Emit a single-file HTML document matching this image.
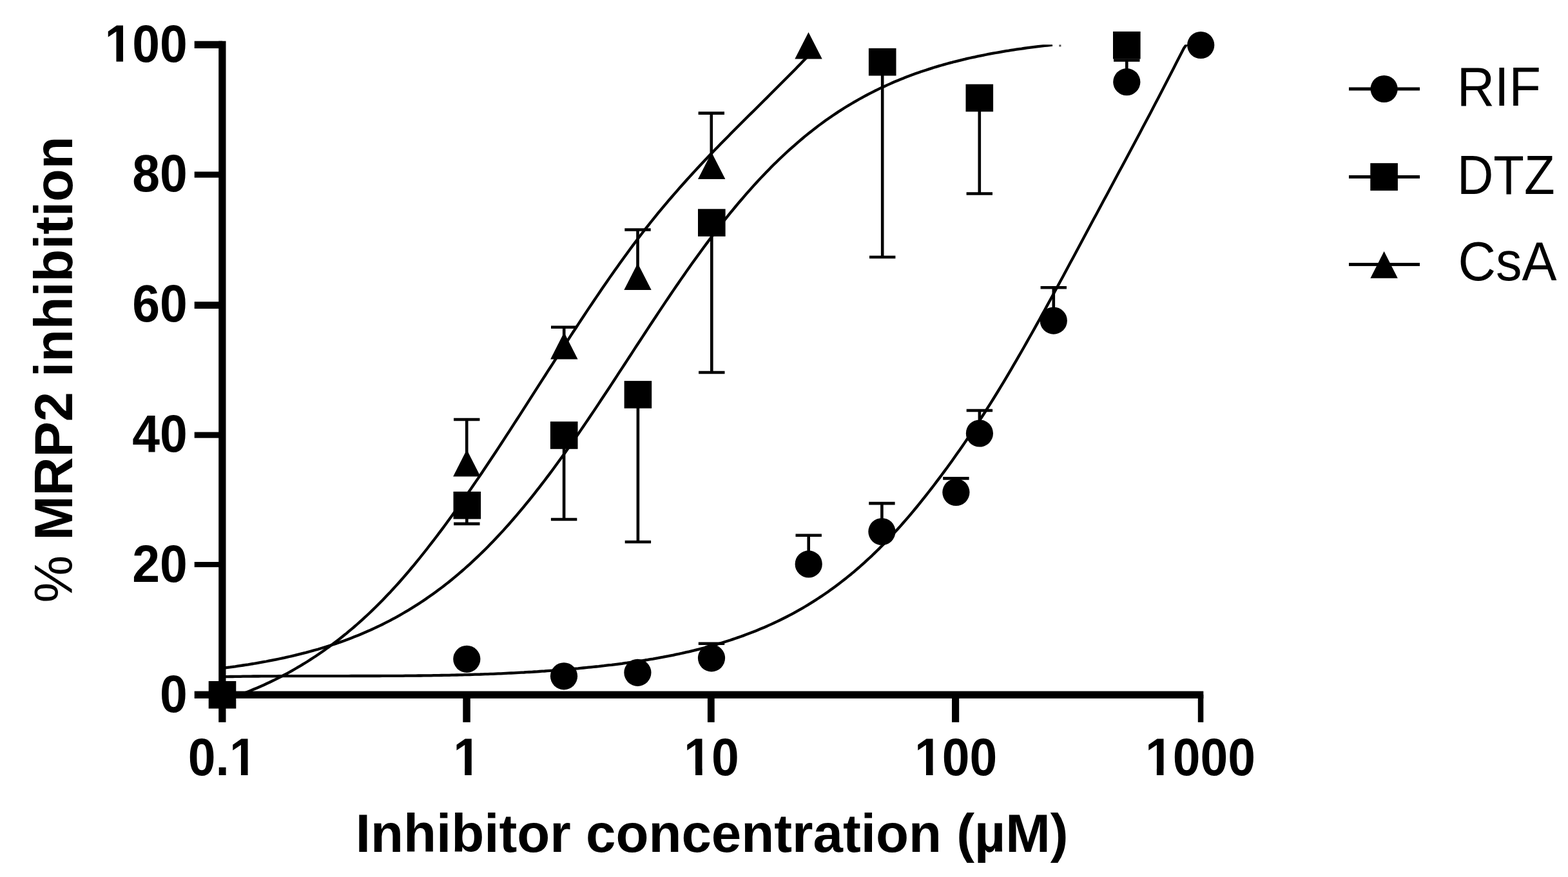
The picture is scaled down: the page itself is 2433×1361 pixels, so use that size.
<!DOCTYPE html>
<html lang="en"><head><meta charset="utf-8"><title>MRP2 inhibition</title>
<style>html,body{margin:0;padding:0;background:#fff;}body{width:2433px;height:1361px;overflow:hidden;}svg{display:block;}</style>
</head><body>
<svg width="2433" height="1361" viewBox="0 0 2433 1361" role="img" aria-label="MRP2 inhibition versus inhibitor concentration">
<rect width="2433" height="1361" fill="#fff"/>
<defs><clipPath id="plot"><rect x="345" y="69.2" width="1530" height="1009.1"/></clipPath></defs>
<g fill="none" stroke="#000" stroke-width="4.3" stroke-linejoin="round" clip-path="url(#plot)">
<path d="M345.0,1050.1 L349.0,1050.1 L353.0,1050.1 L357.0,1050.0 L361.0,1050.0 L365.0,1049.9 L369.0,1049.8 L373.0,1049.8 L377.0,1049.7 L381.0,1049.7 L385.0,1049.6 L389.0,1049.6 L393.0,1049.5 L397.0,1049.5 L401.0,1049.5 L405.0,1049.4 L409.0,1049.4 L413.0,1049.4 L417.0,1049.3 L421.0,1049.3 L425.0,1049.3 L429.0,1049.3 L433.0,1049.2 L437.0,1049.2 L441.0,1049.2 L445.0,1049.2 L449.0,1049.2 L453.0,1049.2 L457.0,1049.1 L461.0,1049.1 L465.0,1049.1 L469.0,1049.1 L473.0,1049.1 L477.0,1049.1 L481.0,1049.1 L485.0,1049.1 L489.0,1049.1 L493.0,1049.1 L497.0,1049.1 L501.0,1049.1 L505.0,1049.1 L509.0,1049.1 L513.0,1049.1 L517.0,1049.1 L521.0,1049.1 L525.0,1049.1 L529.0,1049.1 L533.0,1049.1 L537.0,1049.1 L541.0,1049.1 L545.0,1049.0 L549.0,1049.0 L553.0,1049.0 L557.0,1049.0 L561.0,1049.0 L565.0,1049.0 L569.0,1049.0 L573.0,1049.0 L577.0,1049.0 L581.0,1049.0 L585.0,1049.0 L589.0,1049.0 L593.0,1048.9 L597.0,1048.9 L601.0,1048.9 L605.0,1048.9 L609.0,1048.9 L613.0,1048.8 L617.0,1048.8 L621.0,1048.8 L625.0,1048.8 L629.0,1048.7 L633.0,1048.7 L637.0,1048.7 L641.0,1048.6 L645.0,1048.6 L649.0,1048.5 L653.0,1048.5 L657.0,1048.4 L661.0,1048.4 L665.0,1048.3 L669.0,1048.3 L673.0,1048.2 L677.0,1048.1 L681.0,1048.1 L685.0,1048.0 L689.0,1047.9 L693.0,1047.9 L697.0,1047.8 L701.0,1047.7 L705.0,1047.6 L709.0,1047.5 L713.0,1047.4 L717.0,1047.3 L721.0,1047.2 L725.0,1047.1 L729.0,1047.0 L733.0,1046.9 L737.0,1046.7 L741.0,1046.6 L745.0,1046.5 L749.0,1046.3 L753.0,1046.2 L757.0,1046.1 L761.0,1045.9 L765.0,1045.8 L769.0,1045.6 L773.0,1045.4 L777.0,1045.3 L781.0,1045.1 L785.0,1044.9 L789.0,1044.7 L793.0,1044.5 L797.0,1044.3 L801.0,1044.1 L805.0,1043.9 L809.0,1043.7 L813.0,1043.5 L817.0,1043.2 L821.0,1043.0 L825.0,1042.8 L829.0,1042.5 L833.0,1042.3 L837.0,1042.0 L841.0,1041.7 L845.0,1041.5 L849.0,1041.2 L853.0,1040.9 L857.0,1040.6 L861.0,1040.3 L865.0,1040.0 L869.0,1039.7 L873.0,1039.4 L877.0,1039.0 L881.0,1038.7 L885.0,1038.4 L889.0,1038.0 L893.0,1037.6 L897.0,1037.3 L901.0,1036.9 L905.0,1036.5 L909.0,1036.1 L913.0,1035.7 L917.0,1035.3 L921.0,1034.9 L925.0,1034.5 L929.0,1034.1 L933.0,1033.6 L937.0,1033.2 L941.0,1032.7 L945.0,1032.2 L949.0,1031.8 L953.0,1031.3 L957.0,1030.8 L961.0,1030.3 L965.0,1029.8 L969.0,1029.2 L973.0,1028.7 L977.0,1028.1 L981.0,1027.6 L985.0,1027.0 L989.0,1026.4 L993.0,1025.8 L997.0,1025.2 L1001.0,1024.5 L1005.0,1023.9 L1009.0,1023.2 L1013.0,1022.6 L1017.0,1021.9 L1021.0,1021.2 L1025.0,1020.4 L1029.0,1019.7 L1033.0,1018.9 L1037.0,1018.2 L1041.0,1017.4 L1045.0,1016.6 L1049.0,1015.7 L1053.0,1014.9 L1057.0,1014.0 L1061.0,1013.1 L1065.0,1012.2 L1069.0,1011.3 L1073.0,1010.3 L1077.0,1009.4 L1081.0,1008.4 L1085.0,1007.4 L1089.0,1006.3 L1093.0,1005.3 L1097.0,1004.2 L1101.0,1003.1 L1105.0,1002.0 L1109.0,1000.8 L1113.0,999.7 L1117.0,998.5 L1121.0,997.3 L1125.0,996.0 L1129.0,994.7 L1133.0,993.5 L1137.0,992.1 L1141.0,990.8 L1145.0,989.4 L1149.0,988.0 L1153.0,986.6 L1157.0,985.1 L1161.0,983.6 L1165.0,982.1 L1169.0,980.5 L1173.0,978.9 L1177.0,977.3 L1181.0,975.6 L1185.0,973.9 L1189.0,972.2 L1193.0,970.4 L1197.0,968.6 L1201.0,966.8 L1205.0,964.9 L1209.0,963.0 L1213.0,961.0 L1217.0,959.0 L1221.0,957.0 L1225.0,954.9 L1229.0,952.8 L1233.0,950.6 L1237.0,948.4 L1241.0,946.1 L1245.0,943.8 L1249.0,941.5 L1253.0,939.1 L1257.0,936.6 L1261.0,934.1 L1265.0,931.6 L1269.0,929.0 L1273.0,926.4 L1277.0,923.7 L1281.0,921.0 L1285.0,918.2 L1289.0,915.3 L1293.0,912.4 L1297.0,909.5 L1301.0,906.5 L1305.0,903.4 L1309.0,900.3 L1313.0,897.2 L1317.0,893.9 L1321.0,890.7 L1325.0,887.3 L1329.0,883.9 L1333.0,880.5 L1337.0,876.9 L1341.0,873.4 L1345.0,869.7 L1349.0,866.0 L1353.0,862.3 L1357.0,858.4 L1361.0,854.5 L1365.0,850.6 L1369.0,846.5 L1373.0,842.4 L1377.0,838.3 L1381.0,834.1 L1385.0,829.8 L1389.0,825.4 L1393.0,821.0 L1397.0,816.6 L1401.0,812.0 L1405.0,807.4 L1409.0,802.8 L1413.0,798.1 L1417.0,793.3 L1421.0,788.5 L1425.0,783.6 L1429.0,778.7 L1433.0,773.7 L1437.0,768.6 L1441.0,763.5 L1445.0,758.4 L1449.0,753.2 L1453.0,747.9 L1457.0,742.6 L1461.0,737.3 L1465.0,731.9 L1469.0,726.4 L1473.0,720.9 L1477.0,715.4 L1481.0,709.8 L1485.0,704.1 L1489.0,698.4 L1493.0,692.7 L1497.0,686.9 L1501.0,681.0 L1505.0,675.1 L1509.0,669.1 L1513.0,663.1 L1517.0,657.1 L1521.0,650.9 L1525.0,644.8 L1529.0,638.5 L1533.0,632.2 L1537.0,625.9 L1541.0,619.5 L1545.0,613.0 L1549.0,606.5 L1553.0,599.9 L1557.0,593.3 L1561.0,586.6 L1565.0,579.8 L1569.0,573.1 L1573.0,566.2 L1577.0,559.3 L1581.0,552.4 L1585.0,545.5 L1589.0,538.5 L1593.0,531.4 L1597.0,524.3 L1601.0,517.2 L1605.0,510.1 L1609.0,502.9 L1613.0,495.7 L1617.0,488.4 L1621.0,481.2 L1625.0,473.9 L1629.0,466.5 L1633.0,459.2 L1637.0,451.8 L1641.0,444.5 L1645.0,437.1 L1649.0,429.7 L1653.0,422.2 L1657.0,414.8 L1661.0,407.3 L1665.0,399.9 L1669.0,392.4 L1673.0,385.0 L1677.0,377.5 L1681.0,370.0 L1685.0,362.5 L1689.0,355.1 L1693.0,347.6 L1697.0,340.1 L1701.0,332.7 L1705.0,325.2 L1709.0,317.8 L1713.0,310.3 L1717.0,302.9 L1721.0,295.4 L1725.0,288.0 L1729.0,280.5 L1733.0,273.1 L1737.0,265.6 L1741.0,258.2 L1745.0,250.7 L1749.0,243.2 L1753.0,235.8 L1757.0,228.3 L1761.0,220.8 L1765.0,213.2 L1769.0,205.7 L1773.0,198.1 L1777.0,190.6 L1781.0,183.0 L1785.0,175.4 L1789.0,167.8 L1793.0,160.1 L1797.0,152.4 L1801.0,144.7 L1805.0,137.0 L1809.0,129.3 L1813.0,121.5 L1817.0,113.7 L1821.0,105.9 L1825.0,98.1 L1829.0,90.3 L1833.0,82.5 L1837.0,74.7 L1841.0,69.2 L1862.0,69.2"/>
<path d="M345.0,1036.9 L349.0,1036.4 L353.0,1035.9 L357.0,1035.4 L361.0,1034.8 L365.0,1034.3 L369.0,1033.7 L373.0,1033.1 L377.0,1032.5 L381.0,1031.9 L385.0,1031.3 L389.0,1030.6 L393.0,1030.0 L397.0,1029.3 L401.0,1028.6 L405.0,1027.9 L409.0,1027.2 L413.0,1026.5 L417.0,1025.7 L421.0,1024.9 L425.0,1024.1 L429.0,1023.3 L433.0,1022.5 L437.0,1021.7 L441.0,1020.8 L445.0,1019.9 L449.0,1019.0 L453.0,1018.1 L457.0,1017.2 L461.0,1016.2 L465.0,1015.2 L469.0,1014.2 L473.0,1013.2 L477.0,1012.1 L481.0,1011.0 L485.0,1009.9 L489.0,1008.8 L493.0,1007.7 L497.0,1006.5 L501.0,1005.3 L505.0,1004.1 L509.0,1002.8 L513.0,1001.5 L517.0,1000.2 L521.0,998.9 L525.0,997.5 L529.0,996.1 L533.0,994.7 L537.0,993.2 L541.0,991.7 L545.0,990.2 L549.0,988.6 L553.0,987.0 L557.0,985.4 L561.0,983.7 L565.0,982.0 L569.0,980.3 L573.0,978.6 L577.0,976.7 L581.0,974.9 L585.0,973.0 L589.0,971.1 L593.0,969.2 L597.0,967.2 L601.0,965.1 L605.0,963.1 L609.0,960.9 L613.0,958.8 L617.0,956.6 L621.0,954.3 L625.0,952.0 L629.0,949.7 L633.0,947.3 L637.0,944.9 L641.0,942.4 L645.0,939.9 L649.0,937.4 L653.0,934.7 L657.0,932.1 L661.0,929.4 L665.0,926.6 L669.0,923.8 L673.0,920.9 L677.0,918.0 L681.0,915.1 L685.0,912.1 L689.0,909.0 L693.0,905.9 L697.0,902.7 L701.0,899.5 L705.0,896.2 L709.0,892.8 L713.0,889.4 L717.0,886.0 L721.0,882.5 L725.0,878.9 L729.0,875.3 L733.0,871.6 L737.0,867.9 L741.0,864.1 L745.0,860.3 L749.0,856.4 L753.0,852.4 L757.0,848.4 L761.0,844.3 L765.0,840.2 L769.0,836.0 L773.0,831.7 L777.0,827.4 L781.0,823.1 L785.0,818.6 L789.0,814.2 L793.0,809.6 L797.0,805.0 L801.0,800.4 L805.0,795.7 L809.0,790.9 L813.0,786.1 L817.0,781.2 L821.0,776.3 L825.0,771.3 L829.0,766.3 L833.0,761.2 L837.0,756.1 L841.0,750.9 L845.0,745.7 L849.0,740.4 L853.0,735.1 L857.0,729.7 L861.0,724.3 L865.0,718.8 L869.0,713.3 L873.0,707.8 L877.0,702.2 L881.0,696.6 L885.0,690.9 L889.0,685.2 L893.0,679.4 L897.0,673.7 L901.0,667.9 L905.0,662.0 L909.0,656.1 L913.0,650.2 L917.0,644.3 L921.0,638.4 L925.0,632.4 L929.0,626.4 L933.0,620.3 L937.0,614.3 L941.0,608.2 L945.0,602.2 L949.0,596.1 L953.0,590.0 L957.0,583.9 L961.0,577.7 L965.0,571.6 L969.0,565.5 L973.0,559.3 L977.0,553.2 L981.0,547.1 L985.0,540.9 L989.0,534.8 L993.0,528.7 L997.0,522.6 L1001.0,516.5 L1005.0,510.4 L1009.0,504.3 L1013.0,498.2 L1017.0,492.2 L1021.0,486.1 L1025.0,480.1 L1029.0,474.1 L1033.0,468.1 L1037.0,462.2 L1041.0,456.3 L1045.0,450.4 L1049.0,444.5 L1053.0,438.7 L1057.0,432.9 L1061.0,427.2 L1065.0,421.4 L1069.0,415.7 L1073.0,410.1 L1077.0,404.5 L1081.0,398.9 L1085.0,393.4 L1089.0,387.9 L1093.0,382.5 L1097.0,377.1 L1101.0,371.7 L1105.0,366.4 L1109.0,361.2 L1113.0,356.0 L1117.0,350.8 L1121.0,345.7 L1125.0,340.7 L1129.0,335.7 L1133.0,330.7 L1137.0,325.8 L1141.0,321.0 L1145.0,316.2 L1149.0,311.5 L1153.0,306.8 L1157.0,302.2 L1161.0,297.6 L1165.0,293.1 L1169.0,288.6 L1173.0,284.3 L1177.0,279.9 L1181.0,275.6 L1185.0,271.4 L1189.0,267.3 L1193.0,263.2 L1197.0,259.1 L1201.0,255.1 L1205.0,251.2 L1209.0,247.3 L1213.0,243.5 L1217.0,239.7 L1221.0,236.0 L1225.0,232.4 L1229.0,228.8 L1233.0,225.3 L1237.0,221.8 L1241.0,218.4 L1245.0,215.0 L1249.0,211.7 L1253.0,208.4 L1257.0,205.2 L1261.0,202.1 L1265.0,199.0 L1269.0,195.9 L1273.0,192.9 L1277.0,190.0 L1281.0,187.1 L1285.0,184.3 L1289.0,181.5 L1293.0,178.8 L1297.0,176.1 L1301.0,173.4 L1305.0,170.9 L1309.0,168.3 L1313.0,165.8 L1317.0,163.4 L1321.0,161.0 L1325.0,158.6 L1329.0,156.3 L1333.0,154.0 L1337.0,151.8 L1341.0,149.6 L1345.0,147.5 L1349.0,145.4 L1353.0,143.4 L1357.0,141.3 L1361.0,139.4 L1365.0,137.4 L1369.0,135.5 L1373.0,133.7 L1377.0,131.9 L1381.0,130.1 L1385.0,128.3 L1389.0,126.6 L1393.0,124.9 L1397.0,123.3 L1401.0,121.7 L1405.0,120.1 L1409.0,118.6 L1413.0,117.1 L1417.0,115.6 L1421.0,114.1 L1425.0,112.7 L1429.0,111.3 L1433.0,110.0 L1437.0,108.7 L1441.0,107.4 L1445.0,106.1 L1449.0,104.8 L1453.0,103.6 L1457.0,102.4 L1461.0,101.3 L1465.0,100.1 L1469.0,99.0 L1473.0,97.9 L1477.0,96.9 L1481.0,95.8 L1485.0,94.8 L1489.0,93.8 L1493.0,92.8 L1497.0,91.9 L1501.0,90.9 L1505.0,90.0 L1509.0,89.1 L1513.0,88.3 L1517.0,87.4 L1521.0,86.6 L1525.0,85.8 L1529.0,85.0 L1533.0,84.2 L1537.0,83.4 L1541.0,82.7 L1545.0,82.0 L1549.0,81.3 L1553.0,80.6 L1557.0,79.9 L1561.0,79.2 L1565.0,78.6 L1569.0,77.9 L1573.0,77.3 L1577.0,76.7 L1581.0,76.1 L1585.0,75.6 L1589.0,75.0 L1593.0,74.4 L1597.0,73.9 L1601.0,73.4 L1605.0,72.9 L1609.0,72.4 L1613.0,71.9 L1617.0,71.4 L1621.0,70.9 L1625.0,70.5 L1629.0,70.0 L1633.0,69.6"/>
<path d="M366.0,1080.5 L370.0,1079.0 L374.0,1077.6 L378.0,1076.0 L382.0,1074.5 L386.0,1072.9 L390.0,1071.3 L394.0,1069.6 L398.0,1067.9 L402.0,1066.2 L406.0,1064.5 L410.0,1062.7 L414.0,1060.8 L418.0,1059.0 L422.0,1057.0 L426.0,1055.1 L430.0,1053.1 L434.0,1051.1 L438.0,1049.0 L442.0,1046.9 L446.0,1044.8 L450.0,1042.6 L454.0,1040.3 L458.0,1038.0 L462.0,1035.7 L466.0,1033.4 L470.0,1030.9 L474.0,1028.5 L478.0,1026.0 L482.0,1023.4 L486.0,1020.8 L490.0,1018.2 L494.0,1015.5 L498.0,1012.8 L502.0,1010.0 L506.0,1007.1 L510.0,1004.2 L514.0,1001.3 L518.0,998.3 L522.0,995.3 L526.0,992.2 L530.0,989.0 L534.0,985.8 L538.0,982.6 L542.0,979.2 L546.0,975.9 L550.0,972.5 L554.0,969.0 L558.0,965.4 L562.0,961.8 L566.0,958.2 L570.0,954.5 L574.0,950.7 L578.0,946.9 L582.0,943.0 L586.0,939.0 L590.0,935.0 L594.0,931.0 L598.0,926.8 L602.0,922.6 L606.0,918.4 L610.0,914.0 L614.0,909.6 L618.0,905.2 L622.0,900.7 L626.0,896.1 L630.0,891.5 L634.0,886.8 L638.0,882.0 L642.0,877.3 L646.0,872.4 L650.0,867.5 L654.0,862.5 L658.0,857.5 L662.0,852.5 L666.0,847.3 L670.0,842.2 L674.0,837.0 L678.0,831.7 L682.0,826.4 L686.0,821.1 L690.0,815.7 L694.0,810.3 L698.0,804.8 L702.0,799.3 L706.0,793.7 L710.0,788.1 L714.0,782.5 L718.0,776.8 L722.0,771.1 L726.0,765.4 L730.0,759.6 L734.0,753.8 L738.0,747.9 L742.0,742.1 L746.0,736.2 L750.0,730.2 L754.0,724.3 L758.0,718.3 L762.0,712.3 L766.0,706.2 L770.0,700.2 L774.0,694.1 L778.0,688.0 L782.0,681.9 L786.0,675.7 L790.0,669.6 L794.0,663.4 L798.0,657.2 L802.0,651.0 L806.0,644.8 L810.0,638.6 L814.0,632.4 L818.0,626.2 L822.0,619.9 L826.0,613.7 L830.0,607.4 L834.0,601.2 L838.0,594.9 L842.0,588.7 L846.0,582.5 L850.0,576.2 L854.0,570.0 L858.0,563.8 L862.0,557.5 L866.0,551.3 L870.0,545.1 L874.0,538.9 L878.0,532.8 L882.0,526.6 L886.0,520.4 L890.0,514.3 L894.0,508.2 L898.0,502.1 L902.0,496.0 L906.0,490.0 L910.0,483.9 L914.0,477.9 L918.0,472.0 L922.0,466.0 L926.0,460.1 L930.0,454.2 L934.0,448.3 L938.0,442.5 L942.0,436.7 L946.0,430.9 L950.0,425.2 L954.0,419.5 L958.0,413.9 L962.0,408.3 L966.0,402.7 L970.0,397.2 L974.0,391.7 L978.0,386.2 L982.0,380.9 L986.0,375.5 L990.0,370.2 L994.0,365.0 L998.0,359.8 L1002.0,354.7 L1006.0,349.6 L1010.0,344.5 L1014.0,339.6 L1018.0,334.6 L1022.0,329.7 L1026.0,324.9 L1030.0,320.1 L1034.0,315.4 L1038.0,310.6 L1042.0,306.0 L1046.0,301.4 L1050.0,296.8 L1054.0,292.2 L1058.0,287.7 L1062.0,283.2 L1066.0,278.8 L1070.0,274.4 L1074.0,270.0 L1078.0,265.6 L1082.0,261.3 L1086.0,257.0 L1090.0,252.8 L1094.0,248.5 L1098.0,244.3 L1102.0,240.1 L1106.0,236.0 L1110.0,231.8 L1114.0,227.7 L1118.0,223.6 L1122.0,219.5 L1126.0,215.4 L1130.0,211.4 L1134.0,207.3 L1138.0,203.3 L1142.0,199.3 L1146.0,195.3 L1150.0,191.3 L1154.0,187.3 L1158.0,183.3 L1162.0,179.3 L1166.0,175.4 L1170.0,171.4 L1174.0,167.4 L1178.0,163.5 L1182.0,159.5 L1186.0,155.5 L1190.0,151.6 L1194.0,147.6 L1198.0,143.6 L1202.0,139.6 L1206.0,135.6 L1210.0,131.6 L1214.0,127.6 L1218.0,123.6 L1222.0,119.6 L1226.0,115.5 L1230.0,111.4 L1234.0,107.4 L1238.0,103.3 L1242.0,99.2 L1246.0,95.0 L1250.0,90.9 L1254.0,86.7"/>
</g>
<rect x="1643.4" y="69.4" width="3" height="3" fill="#4d4d4d"/>
<g stroke="#000" stroke-width="4.6" fill="none">
<path d="M724.2,718.8 V651 M704.0,651 H744.4000000000001"/>
<path d="M875.2,536.8 V507.8 M855.0,507.8 H895.4000000000001"/>
<path d="M989.5,429.4 V356.5 M969.3,356.5 H1009.7"/>
<path d="M1103.8,257.5 V175.6 M1083.6,175.6 H1124.0"/>
<path d="M724.3,784.2 V812.9 M704.0999999999999,812.9 H744.5"/>
<path d="M875.1,675.5 V806 M854.9,806 H895.3000000000001"/>
<path d="M989.9,612.4 V841 M969.6999999999999,841 H1010.1"/>
<path d="M1104.3,345.6 V578 M1084.1,578 H1124.5"/>
<path d="M1369.2,96.2 V399 M1349.0,399 H1389.4"/>
<path d="M1519.8,152 V300.5 M1499.6,300.5 H1540.0"/>
<path d="M1104,1021.3 V998.8 M1083.8,998.8 H1124.2"/>
<path d="M1254.7,875.4 V830.7 M1234.5,830.7 H1274.9"/>
<path d="M1368.4,825 V781.1 M1348.2,781.1 H1388.6000000000001"/>
<path d="M1483.4,764 V742.4 M1463.2,742.4 H1503.6000000000001"/>
<path d="M1519.9,672.5 V637 M1499.7,637 H1540.1000000000001"/>
<path d="M1634.8,497.6 V446.2 M1614.6,446.2 H1655.0"/>
<path d="M1748.3,127.2 V93.5 M1728.1,93.5 H1768.5"/>
</g>
<g fill="#000">
<circle cx="724.3" cy="1022.8" r="21.1"/>
<circle cx="875.0" cy="1049.3" r="21.1"/>
<circle cx="989.4" cy="1043.8" r="21.1"/>
<circle cx="1104.0" cy="1021.3" r="21.1"/>
<circle cx="1254.7" cy="875.4" r="21.1"/>
<circle cx="1368.4" cy="825.0" r="21.1"/>
<circle cx="1483.4" cy="764.0" r="21.1"/>
<circle cx="1519.9" cy="672.5" r="21.1"/>
<circle cx="1634.8" cy="497.6" r="21.1"/>
<circle cx="1748.3" cy="127.2" r="21.1"/>
<circle cx="1863.2" cy="70.0" r="21.1"/>
<rect x="323.7" y="1057.0" width="42.6" height="42.6"/>
<rect x="703.5" y="762.9" width="42.6" height="42.6"/>
<rect x="853.9" y="654.2" width="42.6" height="42.6"/>
<rect x="968.6" y="591.1" width="42.6" height="42.6"/>
<rect x="1083.0" y="324.3" width="42.6" height="42.6"/>
<rect x="1347.9" y="74.9" width="42.6" height="42.6"/>
<rect x="1498.5" y="130.7" width="42.6" height="42.6"/>
<rect x="1727.0" y="48.9" width="42.6" height="42.6"/>
<path d="M724.3,697.8 L745.5,739.4 H703.1 Z"/>
<path d="M875.3,515.8 L896.5,557.4 H854.1 Z"/>
<path d="M989.5,408.4 L1010.7,450.0 H968.3 Z"/>
<path d="M1104.2,236.5 L1125.4,278.1 H1083.0 Z"/>
<path d="M1254.5,49.9 L1275.7,91.5 H1233.3 Z"/>
</g>
<g fill="#000">
<rect x="339.2" y="63.7" width="11.3" height="1057.1"/>
<rect x="301.7" y="1072.6" width="1565.6" height="11.3"/>
<rect x="301.7" y="63.7" width="43.30000000000001" height="11.3"/>
<rect x="301.7" y="266.4" width="43.30000000000001" height="9.3"/>
<rect x="301.7" y="468.2" width="43.30000000000001" height="10.9"/>
<rect x="301.7" y="670.5" width="43.30000000000001" height="9.2"/>
<rect x="301.7" y="872.0" width="43.30000000000001" height="8.2"/>
<rect x="718.3" y="1078" width="11.5" height="42.799999999999955"/>
<rect x="1097.9" y="1078" width="10.8" height="42.799999999999955"/>
<rect x="1477.0" y="1078" width="11.2" height="42.799999999999955"/>
<rect x="1858.8" y="1078" width="8.5" height="42.799999999999955"/>
</g>
<g font-family="'Liberation Sans', sans-serif" font-weight="bold" fill="#000">
<text transform="translate(290.9,1104.8) scale(0.9500,1)" text-anchor="end" font-size="81">0</text>
<text transform="translate(290.9,903.0) scale(0.9500,1)" text-anchor="end" font-size="81">20</text>
<text transform="translate(290.9,701.1) scale(0.9500,1)" text-anchor="end" font-size="81">40</text>
<text transform="translate(290.9,499.3) scale(0.9500,1)" text-anchor="end" font-size="81">60</text>
<text transform="translate(290.9,297.4) scale(0.9500,1)" text-anchor="end" font-size="81">80</text>
<text transform="translate(290.9,95.6) scale(0.9500,1)" text-anchor="end" font-size="81">100</text>
<text transform="translate(345.3,1203.0) scale(0.9500,1)" text-anchor="middle" font-size="81">0.1</text>
<text transform="translate(724.6,1203.0) scale(0.9500,1)" text-anchor="middle" font-size="81">1</text>
<text transform="translate(1103.9,1203.0) scale(0.9500,1)" text-anchor="middle" font-size="81">10</text>
<text transform="translate(1483.2,1203.0) scale(0.9500,1)" text-anchor="middle" font-size="81">100</text>
<text transform="translate(1862.5,1203.0) scale(0.9500,1)" text-anchor="middle" font-size="81">1000</text>
</g><g>
<rect x="166.16" y="86" width="38.21" height="11.10" fill="#fff"/>
<rect x="180.47" y="86" width="10.56" height="9.60" fill="#000"/>
<rect x="359.64" y="1193" width="38.21" height="11.50" fill="#fff"/>
<rect x="373.95" y="1193" width="10.56" height="10.00" fill="#000"/>
<rect x="706.85" y="1193" width="38.21" height="11.50" fill="#fff"/>
<rect x="721.16" y="1193" width="10.56" height="10.00" fill="#000"/>
<rect x="1064.75" y="1193" width="38.21" height="11.50" fill="#fff"/>
<rect x="1079.06" y="1193" width="10.56" height="10.00" fill="#000"/>
<rect x="1422.65" y="1193" width="38.21" height="11.50" fill="#fff"/>
<rect x="1436.97" y="1193" width="10.56" height="10.00" fill="#000"/>
<rect x="1780.56" y="1193" width="38.21" height="11.50" fill="#fff"/>
<rect x="1794.87" y="1193" width="10.56" height="10.00" fill="#000"/>
</g><g font-family="'Liberation Sans', sans-serif" font-weight="bold" fill="#000">
<text transform="translate(1104.7,1321.9)" text-anchor="middle" font-size="83.5">Inhibitor concentration (µM)</text>
<text transform="translate(112.0,573.5) rotate(-90)" text-anchor="middle" font-size="83.0"><tspan font-weight="normal" font-size="83.0">%</tspan> MRP2 inhibition</text>
</g>
<g font-family="'Liberation Sans', sans-serif" fill="#000">
<rect x="2093" y="135.5" width="110" height="5.0"/>
<circle cx="2147.6" cy="138.0" r="21.1"/>
<text transform="translate(2260.7,164.0) scale(0.9510,1)" font-size="85">RIF</text>
<rect x="2093" y="272.0" width="110" height="5.0"/>
<rect x="2126.3" y="253.2" width="42.6" height="42.6"/>
<text transform="translate(2260.9,300.8) scale(0.9180,1)" font-size="85">DTZ</text>
<rect x="2093" y="407.9" width="110" height="5.0"/>
<path d="M2147.6,390.1 L2168.8,431.7 H2126.4 Z"/>
<text transform="translate(2262.6,435.0) scale(0.9530,1)" font-size="85">CsA</text>
</g>
</svg>
</body></html>
